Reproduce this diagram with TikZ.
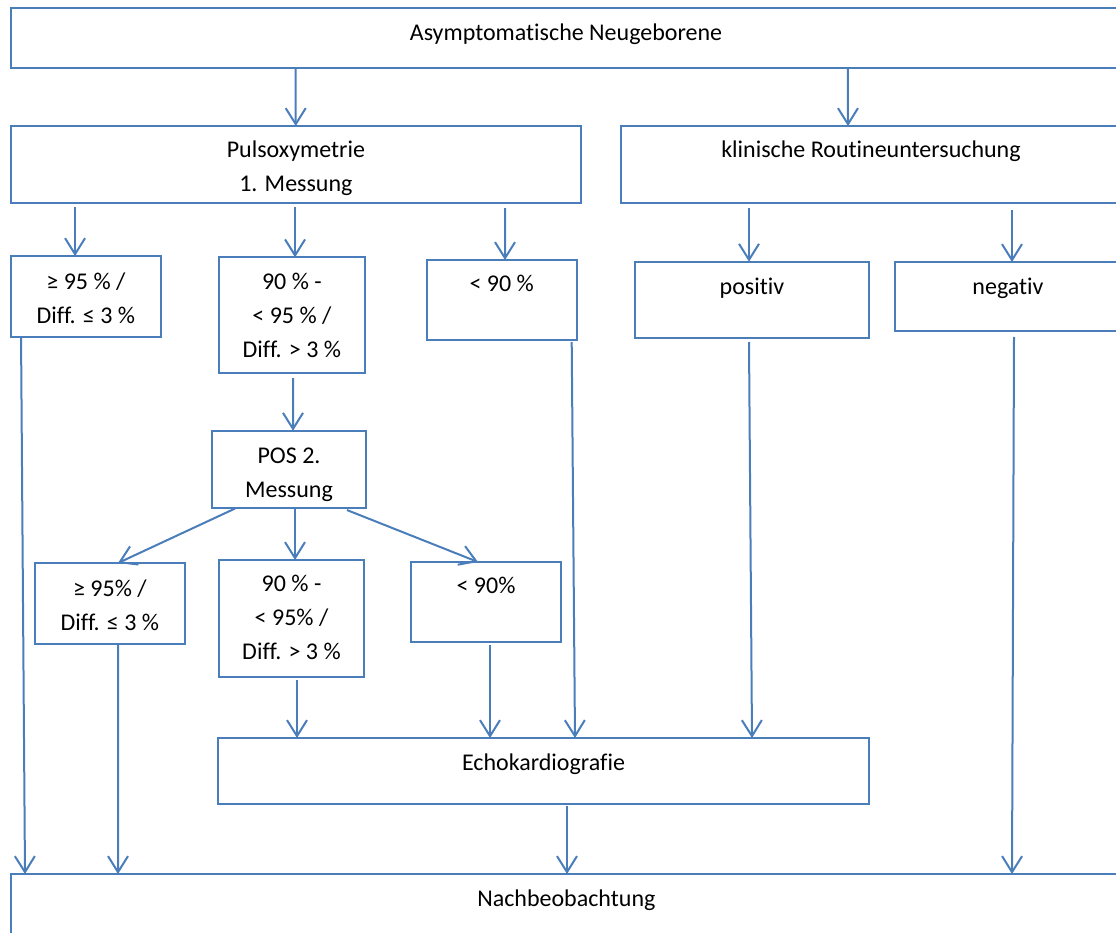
\documentclass[tikz,border=0pt]{standalone}
\usepackage{fontspec}
\setmainfont{Carlito}[Ligatures={NoCommon}]
\usetikzlibrary{arrows.meta,calc}
\definecolor{frame}{RGB}{74,126,187}
% strut that fixes the height of the first text line
\newcommand{\tstrut}{\rule{0pt}{22pt}}
\begin{document}
\begin{tikzpicture}[x=1pt,y=-1pt,
  box/.style={draw=frame, line width=2pt, rectangle, inner sep=0pt, outer sep=0pt},
  txt/.style={anchor=north, inner sep=0pt, align=center,
    font=\fontsize{24pt}{34pt}\selectfont, text=black},
  arr/.style={draw=frame, line width=2pt,
    -{Straight Barb[length=16pt,width=20pt]}}]
\useasboundingbox (0,0) rectangle (1116,933);
\clip (0,0) rectangle (1116,933);

% boxes
\node[box, minimum width=1110.8pt, minimum height=59.4pt] (top)  at (566,38) {};
\node[box, minimum width=570.3pt,  minimum height=76.7pt] (puls) at (295.9,164.4) {};
\node[box, minimum width=500pt,    minimum height=76.7pt] (klin) at (871,164.4) {};
\node[box, minimum width=150.3pt,  minimum height=80.7pt] (A)    at (85.9,296.4) {};
\node[box, minimum width=146.3pt,  minimum height=116pt]  (B)    at (291.9,315.3) {};
\node[box, minimum width=150pt,    minimum height=80pt]   (C)    at (501.7,300) {};
\node[box, minimum width=234pt,    minimum height=76pt]   (pos)  at (752,299.7) {};
\node[box, minimum width=226pt,    minimum height=69pt]   (neg)  at (1008,296.5) {};
\node[box, minimum width=154pt,    minimum height=77.3pt] (POS)  at (289,469.4) {};
\node[box, minimum width=150.3pt,  minimum height=81pt]   (D)    at (109.9,603.5) {};
\node[box, minimum width=145pt,    minimum height=117pt]  (E)    at (291.5,618.5) {};
\node[box, minimum width=150pt,    minimum height=80pt]   (F)    at (486,602) {};
\node[box, minimum width=651pt,    minimum height=66pt]   (echo) at (543.5,771) {};
\node[box, minimum width=1111.3pt, minimum height=86pt]   (nach) at (566.35,917) {};

% texts (node top = first baseline - 22)
\node[txt] (top-t)  at (566,18)      {\tstrut Asymptomatische Neugeborene};
\node[txt] (puls-t) at (295.9,135.7) {\tstrut Pulsoxymetrie\\1. Messung};
\node[txt] (klin-t) at (871,135.7)   {\tstrut klinische Routineuntersuchung};
\node[txt] (A-t)    at (85.9,267)    {\tstrut ≥ 95 \% /\\Diff. ≤ 3 \%};
\node[txt] (B-t)    at (291.9,267)   {\tstrut 90 \% -\\< 95 \% /\\Diff. > 3 \%};
\node[txt] (C-t)    at (501.7,269.7) {\tstrut < 90 \%};
\node[txt] (pos-t)  at (752,272)     {\tstrut positiv};
\node[txt] (neg-t)  at (1008,272)    {\tstrut negativ};
\node[txt] (POS-t)  at (289,441.3)   {\tstrut POS 2.\\Messung};
\node[txt] (D-t)    at (109.9,574)   {\tstrut ≥ 95\% /\\Diff. ≤ 3 \%};
\node[txt] (E-t)    at (291.5,569.7) {\tstrut 90 \% -\\< 95\% /\\Diff. > 3 \%};
\node[txt] (F-t)    at (486,571.3)   {\tstrut < 90\%};
\node[txt] (echo-t) at (543.5,748.7) {\tstrut Echokardiografie};
\node[txt] (nach-t) at (566.35,884)  {\tstrut Nachbeobachtung};

% connectors
\draw[arr] ($(top.south west)+(285,0)$)     -- ($(puls.north west)+(285,0)$);
\draw[arr] ($(top.south west)+(837.3,0)$)   -- ($(klin.north west)+(227,0)$);

\draw[arr] ($(puls.south west)+(64.3,4.3)$)  -- ($(A.north west)+(64.3,0)$);
\draw[arr] ($(puls.south west)+(284.3,4.3)$) -- ($(B.north west)+(76.3,0)$);
\draw[arr] ($(puls.south west)+(494.3,5.3)$) -- ($(C.north west)+(78.3,0)$);

\draw[arr] ($(klin.south west)+(128,5.3)$)   -- ($(pos.north west)+(114,0)$);
\draw[arr] ($(klin.south west)+(391,7.3)$)   -- ($(neg.north west)+(117,0)$);

\draw[arr] ($(B.south west)+(74.3,4.7)$)     -- ($(POS.north west)+(81,0)$);

\draw[arr] ($(POS.south west)+(23,0.5)$)     -- ($(D.north west)+(83.3,0)$);
\draw[arr] ($(POS.south west)+(83,1)$)       -- ($(E.north west)+(76,0)$);
\draw[arr] ($(POS.south west)+(135,2)$)      -- ($(F.north west)+(67,0)$);

\draw[arr] ($(E.south west)+(78,3)$)         -- ($(echo.north west)+(79,0)$);
\draw[arr] ($(F.south west)+(79,3)$)         -- ($(echo.north west)+(272,0)$);
\draw[arr] ($(C.south west)+(145,2)$)        -- ($(echo.north west)+(357,0)$);
\draw[arr] ($(pos.south west)+(114,4.3)$)    -- ($(echo.north west)+(534,0)$);

\draw[arr] ($(A.south west)+(10.3,1.3)$)     -- ($(nach.north west)+(14.3,0)$);
\draw[arr] ($(D.south west)+(83.3,1)$)       -- ($(nach.north west)+(107.3,0)$);
\draw[arr] ($(echo.south west)+(349,2)$)     -- ($(nach.north west)+(556.3,0)$);
\draw[arr] ($(neg.south west)+(119,6)$)      -- ($(nach.north west)+(1001.3,0)$);
\end{tikzpicture}
\end{document}
